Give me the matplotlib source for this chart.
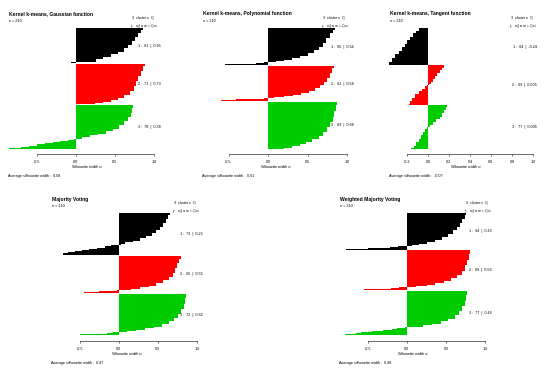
import matplotlib
matplotlib.use("Agg")
import matplotlib.pyplot as plt
import matplotlib.transforms as mtransforms
import numpy as np

plt.rcParams['font.family'] = ['Liberation Sans', 'DejaVu Sans']
plt.rcParams['mathtext.fontset'] = 'custom'
plt.rcParams['mathtext.rm'] = 'Liberation Sans'
plt.rcParams['mathtext.it'] = 'Liberation Sans:italic'
plt.rcParams['mathtext.bf'] = 'Liberation Sans:bold'
plt.rcParams['axes.unicode_minus'] = False

# silhouette widths, sorted inside each cluster, as (value, count) steps
gauss_c1 = [(0.86, 3), (0.83, 6), (0.80, 7), (0.76, 7), (0.72, 6), (0.67, 6), (0.61, 6),
            (0.54, 5), (0.45, 4), (0.35, 4), (0.26, 6), (-0.07, 1)]
gauss_c2 = [(0.88, 5), (0.86, 8), (0.83, 9), (0.80, 9), (0.77, 9), (0.74, 8), (0.69, 7),
            (0.62, 5), (0.54, 4), (0.45, 3), (0.35, 2), (0.25, 2)]
gauss_c3 = [(0.73, 6), (0.72, 8), (0.70, 8), (0.67, 7), (0.62, 7), (0.55, 6), (0.47, 5),
            (0.38, 4), (0.28, 3), (0.18, 3), (0.08, 3), (-0.03, 2), (-0.10, 2), (-0.20, 2),
            (-0.30, 2), (-0.40, 2), (-0.50, 2), (-0.60, 2), (-0.70, 2), (-0.80, 1), (-0.86, 1)]

poly_c1 = [(0.85, 3), (0.82, 6), (0.78, 8), (0.74, 8), (0.70, 7), (0.65, 6), (0.58, 6),
           (0.50, 5), (0.40, 4), (0.30, 3), (0.20, 2), (0.10, 2), (-0.05, 1), (-0.15, 1),
           (-0.35, 1), (-0.55, 1), (-0.68, 1)]
poly_c2 = [(0.83, 4), (0.81, 9), (0.78, 8), (0.75, 7), (0.71, 6), (0.66, 5), (0.60, 5),
           (0.52, 4), (0.42, 3), (0.32, 2), (0.20, 2), (0.08, 2), (-0.05, 1), (-0.20, 1),
           (-0.40, 1), (-0.60, 1), (-0.82, 1)]
poly_c3 = [(0.87, 6), (0.86, 10), (0.84, 10), (0.82, 10), (0.79, 9), (0.75, 8), (0.70, 7),
           (0.64, 6), (0.56, 5), (0.48, 4), (0.40, 3), (0.30, 3), (0.20, 2)]

tan_c1 = [(-0.09, 4), (-0.11, 5), (-0.14, 6), (-0.17, 6), (-0.20, 6), (-0.22, 6),
          (-0.25, 6), (-0.28, 7), (-0.31, 7), (-0.34, 6), (-0.37, 5)]
tan_c2 = [(0.15, 4), (0.13, 5), (0.11, 5), (0.09, 5), (0.07, 5), (0.05, 5), (0.03, 4),
          (0.01, 2), (-0.01, 2), (-0.03, 4), (-0.06, 5), (-0.09, 5), (-0.12, 6),
          (-0.15, 6), (-0.17, 5), (-0.18, 1)]
tan_c3 = [(0.18, 3), (0.17, 5), (0.15, 6), (0.13, 6), (0.11, 5), (0.08, 5), (0.05, 5),
          (0.02, 4), (-0.01, 3), (-0.03, 5), (-0.05, 6), (-0.07, 6), (-0.09, 6),
          (-0.11, 6), (-0.13, 5), (-0.16, 1)]

mv_c1 = [(0.66, 4), (0.63, 6), (0.60, 7), (0.57, 7), (0.53, 6), (0.48, 5), (0.42, 5),
         (0.35, 4), (0.27, 4), (0.18, 3), (0.08, 3), (0.02, 1), (-0.04, 1), (-0.10, 2),
         (-0.18, 2), (-0.28, 2), (-0.38, 2), (-0.48, 2), (-0.57, 2), (-0.65, 2),
         (-0.72, 2), (-0.78, 1)]
mv_c2 = [(0.79, 5), (0.77, 8), (0.75, 9), (0.72, 8), (0.69, 7), (0.64, 6), (0.57, 5),
         (0.48, 4), (0.38, 3), (0.27, 2), (0.15, 2), (0.05, 1), (-0.03, 1), (-0.10, 1),
         (-0.25, 1), (-0.45, 1), (-0.63, 1)]
mv_c3 = [(0.86, 8), (0.85, 10), (0.83, 9), (0.80, 8), (0.76, 7), (0.71, 6), (0.64, 5),
         (0.55, 4), (0.45, 3), (0.33, 3), (0.22, 2), (0.10, 1), (-0.03, 1), (-0.08, 1),
         (-0.15, 1), (-0.30, 1), (-0.50, 1), (-0.86, 1)]

wmv_c1 = [(0.76, 4), (0.74, 6), (0.71, 7), (0.68, 7), (0.64, 6), (0.59, 6), (0.53, 5),
          (0.45, 5), (0.36, 4), (0.25, 3), (0.15, 2), (0.06, 2), (-0.05, 1), (-0.12, 1),
          (-0.22, 1), (-0.35, 1), (-0.50, 1), (-0.65, 1), (-0.78, 1)]
wmv_c2 = [(0.81, 6), (0.79, 10), (0.77, 10), (0.74, 9), (0.70, 7), (0.64, 6), (0.56, 5),
          (0.47, 4), (0.36, 3), (0.25, 2), (0.12, 1), (-0.03, 1), (-0.10, 1), (-0.20, 1),
          (-0.35, 1), (-0.55, 1), (-0.71, 1)]
wmv_c3 = [(0.77, 8), (0.76, 10), (0.74, 9), (0.71, 8), (0.67, 7), (0.61, 6), (0.53, 5),
          (0.43, 4), (0.32, 3), (0.20, 2), (0.08, 1), (-0.03, 1), (-0.08, 1), (-0.13, 1),
          (-0.19, 1), (-0.25, 1), (-0.31, 1), (-0.38, 1), (-0.45, 1), (-0.52, 1),
          (-0.59, 1), (-0.66, 1), (-0.73, 1), (-0.80, 1), (-0.86, 1)]

# average widths as printed in the plots
gauss_avg = [0.65, 0.73, 0.38]
poly_avg = [0.54, 0.58, 0.68]
tan_avg = [-0.24, 0.005, 0.005]
mv_avg = [0.25, 0.55, 0.62]
wmv_avg = [0.43, 0.56, 0.46]
overall_avg = [0.58, 0.61, -0.07, 0.47, 0.48]

titles = ["Kernel k-means, Gaussian function", "Kernel k-means, Polynomial function",
          "Kernel k-means, Tangent function", "Majority Voting", "Weighted Majority Voting"]
ticks_wide = [-0.5, 0.0, 0.5, 1.0]
ticks_tan = [-0.2, 0.0, 0.2, 0.4, 0.6, 0.8, 1.0]

cluster_colors = ["black", "red", "#00CD00"]

W, H = 550, 369
fig = plt.figure(figsize=(5.5, 3.69), dpi=100)

def fx(px):
    return px / W

def fy(py):
    return 1 - py / H

FS = 2.7
FS_TITLE = 3.6

def draw_panel(clusters, avgs, overall, title, ticks, lay):
    x0, pxu, ytop, ybot = lay['x0'], lay['pxu'], lay['ytop'], lay['ybot']
    xlo, xhi = -1.0, 1.1
    gap = 1
    sizes = [sum(c for _, c in s) for s in clusters]
    nrows = sum(sizes) + gap * (len(clusters) - 1)
    left = x0 + xlo * pxu
    ax = fig.add_axes([fx(left), fy(ybot), (xhi - xlo) * pxu / W, (ybot - ytop) / H])
    ax.set_xlim(xlo, xhi)
    ax.set_ylim(nrows, 0)
    trans = mtransforms.blended_transform_factory(fig.transFigure, ax.transData)
    pos = 0
    for k, steps in enumerate(clusters):
        vals = np.repeat([v for v, _ in steps], [c for _, c in steps])
        edges = pos + np.arange(len(vals) + 1)
        ax.stairs(vals, edges, baseline=0, fill=True, orientation='horizontal',
                  color=cluster_colors[k], linewidth=0)
        mid = pos + len(vals) / 2
        ax.text(fx(lay['lab_x']), mid, "%d :  %d  |  %s" % (k + 1, sizes[k], format(avgs[k], 'g')),
                transform=trans, ha='right', va='center', fontsize=FS)
        pos += len(vals) + gap

    for s in ['top', 'left', 'right']:
        ax.spines[s].set_visible(False)
    ax.set_yticks([])
    ax.spines['bottom'].set_position(('outward', (lay['axis_y'] - ybot) * 0.72))
    ax.spines['bottom'].set_bounds(ticks[0], ticks[-1])
    ax.spines['bottom'].set_linewidth(0.5)
    ax.spines['bottom'].set_color('#333333')
    ax.set_xticks(ticks)
    ax.set_xticklabels(["%.1f" % t for t in ticks])
    ax.tick_params(axis='x', length=1.5, width=0.5, color='#333333', labelsize=FS, pad=2.8)
    ax.patch.set_visible(False)

    tx = lay['title_x']
    ay = lay['axis_y']
    fig.text(fx(tx), fy(lay['title_y']), title, fontsize=FS_TITLE, fontweight='bold',
             ha='left', va='center')
    fig.text(fx(tx), fy(lay['title_y'] + 7), "n = 210", fontsize=FS, ha='left', va='center')
    fig.text(fx(lay['head_x']), fy(lay['title_y'] + 5), r"3  clusters  C$_j$",
             fontsize=FS, ha='right', va='center')
    fig.text(fx(lay['head_x'] + 2), fy(lay['title_y'] + 12.5),
             r"j :  n$_j$ | ave$_{i\in Cj}$ s$_i$", fontsize=FS, ha='right', va='center')
    fig.text(fx(lay['xlab_x']), fy(ay + 13.5), r"Silhouette width s$_i$",
             fontsize=FS, ha='center', va='center')
    fig.text(fx(tx - 1), fy(ay + 22), "Average silhouette width :  %.2f" % overall,
             fontsize=FS, ha='left', va='center')
    return ax

layouts = [
    dict(x0=76, pxu=78, ytop=28.3, ybot=149, axis_y=154, title_x=9, title_y=14,
         head_x=156, lab_x=161, xlab_x=87),
    dict(x0=268, pxu=79, ytop=28.3, ybot=149, axis_y=154, title_x=203, title_y=14,
         head_x=347, lab_x=354, xlab_x=276),
    dict(x0=428, pxu=105, ytop=28.3, ybot=149, axis_y=154, title_x=390, title_y=14,
         head_x=535, lab_x=537, xlab_x=466),
    dict(x0=119, pxu=78, ytop=213, ybot=335.3, axis_y=341, title_x=52, title_y=199,
         head_x=198, lab_x=203, xlab_x=127),
    dict(x0=407, pxu=78, ytop=213, ybot=335.3, axis_y=341, title_x=340, title_y=199,
         head_x=490, lab_x=492, xlab_x=413),
]

draw_panel([gauss_c1, gauss_c2, gauss_c3], gauss_avg, overall_avg[0], titles[0], ticks_wide, layouts[0])
draw_panel([poly_c1, poly_c2, poly_c3], poly_avg, overall_avg[1], titles[1], ticks_wide, layouts[1])
draw_panel([tan_c1, tan_c2, tan_c3], tan_avg, overall_avg[2], titles[2], ticks_tan, layouts[2])
draw_panel([mv_c1, mv_c2, mv_c3], mv_avg, overall_avg[3], titles[3], ticks_wide, layouts[3])
draw_panel([wmv_c1, wmv_c2, wmv_c3], wmv_avg, overall_avg[4], titles[4], ticks_wide, layouts[4])

fig.savefig("out.png", dpi=100)
